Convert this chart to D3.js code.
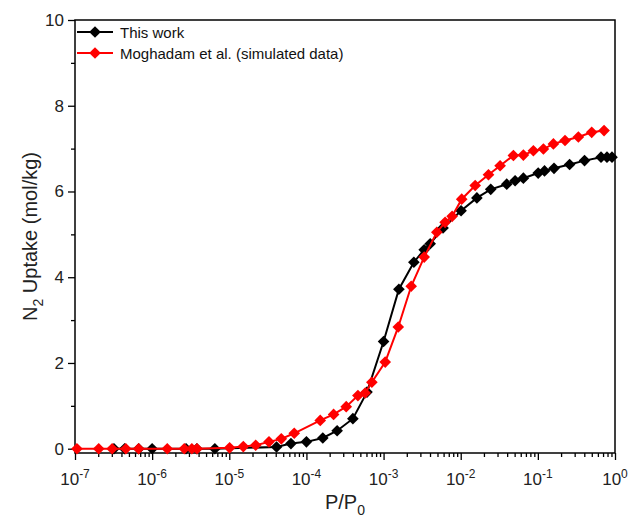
<!DOCTYPE html>
<html>
<head>
<meta charset="utf-8">
<script src="https://cdn.jsdelivr.net/npm/d3@7"></script>
<style>
  body { margin: 0; background: #fff; }
  svg { display: block; font-family: "Liberation Sans", Arial, sans-serif; }
</style>
</head>
<body>
<div id="chart"></div>
<script>
// ── N2 uptake isotherm: this work vs. Moghadam et al. ─────
const workP  = [3.2e-7, 4.4e-7, 6.7e-7, 1.0e-6, 2.75e-6, 3.8e-6, 6.5e-6, 4.1e-5, 6.3e-5, 1.0e-4,
                1.63e-4, 2.5e-4, 4.0e-4, 6.1e-4, 1.0e-3, 1.58e-3, 2.47e-3, 3.36e-3, 4.02e-3, 5.9e-3,
                1.01e-2, 1.62e-2, 2.45e-2, 3.95e-2, 5.07e-2, 6.49e-2, 0.101, 0.122, 0.162, 0.258,
                0.403, 0.659, 0.787, 0.914];
const workN2 = [0, 0, 0, 0, 0, 0, 0, 0.04, 0.12, 0.16,
                0.25, 0.42, 0.70, 1.32, 2.50, 3.72, 4.35, 4.64, 4.78, 5.15,
                5.55, 5.85, 6.05, 6.17, 6.25, 6.31, 6.43, 6.48, 6.54, 6.63,
                6.72, 6.80, 6.80, 6.80];

const simP  = [1.06e-7, 2.03e-7, 3.03e-7, 4.56e-7, 6.68e-7, 1.57e-6, 2.61e-6, 3.27e-6, 3.82e-6, 1.01e-5,
               1.52e-5, 2.20e-5, 3.27e-5, 4.72e-5, 6.95e-5, 1.51e-4, 2.25e-4, 3.28e-4, 4.65e-4, 5.78e-4,
               7.05e-4, 1.05e-3, 1.55e-3, 2.28e-3, 3.36e-3, 4.90e-3, 6.28e-3, 7.74e-3, 1.03e-2, 1.54e-2,
               2.29e-2, 3.24e-2, 4.82e-2, 6.49e-2, 8.75e-2, 0.118, 0.159, 0.225, 0.335, 0.499, 0.721];
const simN2 = [0, 0, 0, 0, 0, 0, 0, 0, 0, 0.02,
               0.05, 0.08, 0.16, 0.23, 0.36, 0.66, 0.80, 0.98, 1.24, 1.30,
               1.55, 2.02, 2.84, 3.79, 4.47, 5.05, 5.28, 5.42, 5.82, 6.14,
               6.39, 6.60, 6.84, 6.85, 6.95, 6.99, 7.11, 7.19, 7.27, 7.38, 7.42];

const xExponents = [-7, -6, -5, -4, -3, -2, -1, 0];
const yMajor = [0, 2, 4, 6, 8, 10];
const yMinor = [1, 3, 5, 7, 9];

const series = [
    { label: "This work", color: "#000000", p: workP, n: workN2 },
    { label: "Moghadam et al. (simulated data)", color: "#ff0000", p: simP, n: simN2 }
];

const width = 629, height = 523;
const margin = { top: 20, right: 14, bottom: 70, left: 75 };
const innerW = width - margin.left - margin.right;
const innerH = height - margin.top - margin.bottom;

const svg = d3.select("#chart").append("svg")
    .attr("width", width).attr("height", height);
const g = svg.append("g").attr("transform", `translate(${margin.left},${margin.top})`);

const x = d3.scaleLog().domain([1e-7, 1]).range([0, innerW]);
const y = d3.scaleLinear().domain([-0.1, 10]).range([innerH, 0]);

// minor ticks on log axis
const xMinor = [];
xExponents.slice(0, -1).forEach(e => {
    for (let k = 2; k <= 9; k++) xMinor.push(k * Math.pow(10, e));
});

// bottom axis
g.append("g").attr("transform", `translate(0,${innerH})`)
    .call(d3.axisBottom(x).tickValues(xMinor).tickSize(4).tickFormat(""))
    .call(a => a.select(".domain").remove());
g.append("g").attr("transform", `translate(0,${innerH})`)
    .call(d3.axisBottom(x).tickValues(xExponents.map(e => Math.pow(10, e))).tickSize(7).tickFormat(""))
    .call(a => a.select(".domain").remove());

xExponents.forEach(e => {
    const t = g.append("text")
        .attr("x", x(Math.pow(10, e)))
        .attr("y", innerH + 32)
        .attr("text-anchor", "middle")
        .style("font-size", "17px").style("fill", "#222");
    t.append("tspan").text("10");
    t.append("tspan").attr("dy", -7).style("font-size", "12px").text(String(e));
});

// left axis
g.append("g").call(d3.axisLeft(y).tickValues(yMinor).tickSize(4).tickFormat(""))
    .call(a => a.select(".domain").remove());
g.append("g").call(d3.axisLeft(y).tickValues(yMajor).tickSize(7).tickPadding(4).tickFormat(d3.format("d")))
    .call(a => a.select(".domain").remove())
    .call(a => a.selectAll("text").style("font-size", "17px").style("fill", "#222")
        .style("font-family", "'Liberation Sans', Arial, sans-serif"));
g.selectAll(".tick line").attr("stroke", "#000").attr("stroke-width", 1.3);

// frame
g.append("rect").attr("x", 0).attr("y", 0).attr("width", innerW).attr("height", innerH)
    .attr("fill", "none").attr("stroke", "#000").attr("stroke-width", 1.5);

// axis titles
const xt = g.append("text").attr("x", innerW / 2).attr("y", innerH + 56)
    .attr("text-anchor", "middle").style("font-size", "20px").style("fill", "#222");
xt.append("tspan").text("P/P");
xt.append("tspan").attr("dy", 6).style("font-size", "14px").text("0");

const yt = g.append("text").attr("transform", "rotate(-90)")
    .attr("x", -innerH / 2).attr("y", -38)
    .attr("text-anchor", "middle").style("font-size", "20px").style("fill", "#222");
yt.append("tspan").text("N");
yt.append("tspan").attr("dy", 6).style("font-size", "14px").text("2");
yt.append("tspan").attr("dy", -6).text(" Uptake (mol/kg)");

// series
const diamond = d3.symbol(d3.symbolSquare, 68);
const line = d3.line().x(d => x(d[0])).y(d => y(d[1]));

series.forEach(s => {
    const pts = s.p.map((p, i) => [p, s.n[i]]);
    g.append("path").datum(pts)
        .attr("fill", "none").attr("stroke", s.color).attr("stroke-width", 2)
        .attr("d", line);
    g.append("g").selectAll("path").data(pts).join("path")
        .attr("d", diamond)
        .attr("transform", d => `translate(${x(d[0])},${y(d[1])}) rotate(45)`)
        .attr("fill", s.color);
});

// legend
const legend = g.append("g").attr("transform", "translate(2,12)");
series.forEach((s, i) => {
    const row = legend.append("g").attr("transform", `translate(0,${i * 21})`);
    row.append("line").attr("x1", 0).attr("x2", 36).attr("y1", 0).attr("y2", 0)
        .attr("stroke", s.color).attr("stroke-width", 2);
    row.append("path").attr("d", diamond).attr("transform", "translate(18,0) rotate(45)")
        .attr("fill", s.color);
    row.append("text").attr("x", 43).attr("y", 5.5)
        .style("font-size", "15px").style("fill", "#111").text(s.label);
});
</script>
</body>
</html>
